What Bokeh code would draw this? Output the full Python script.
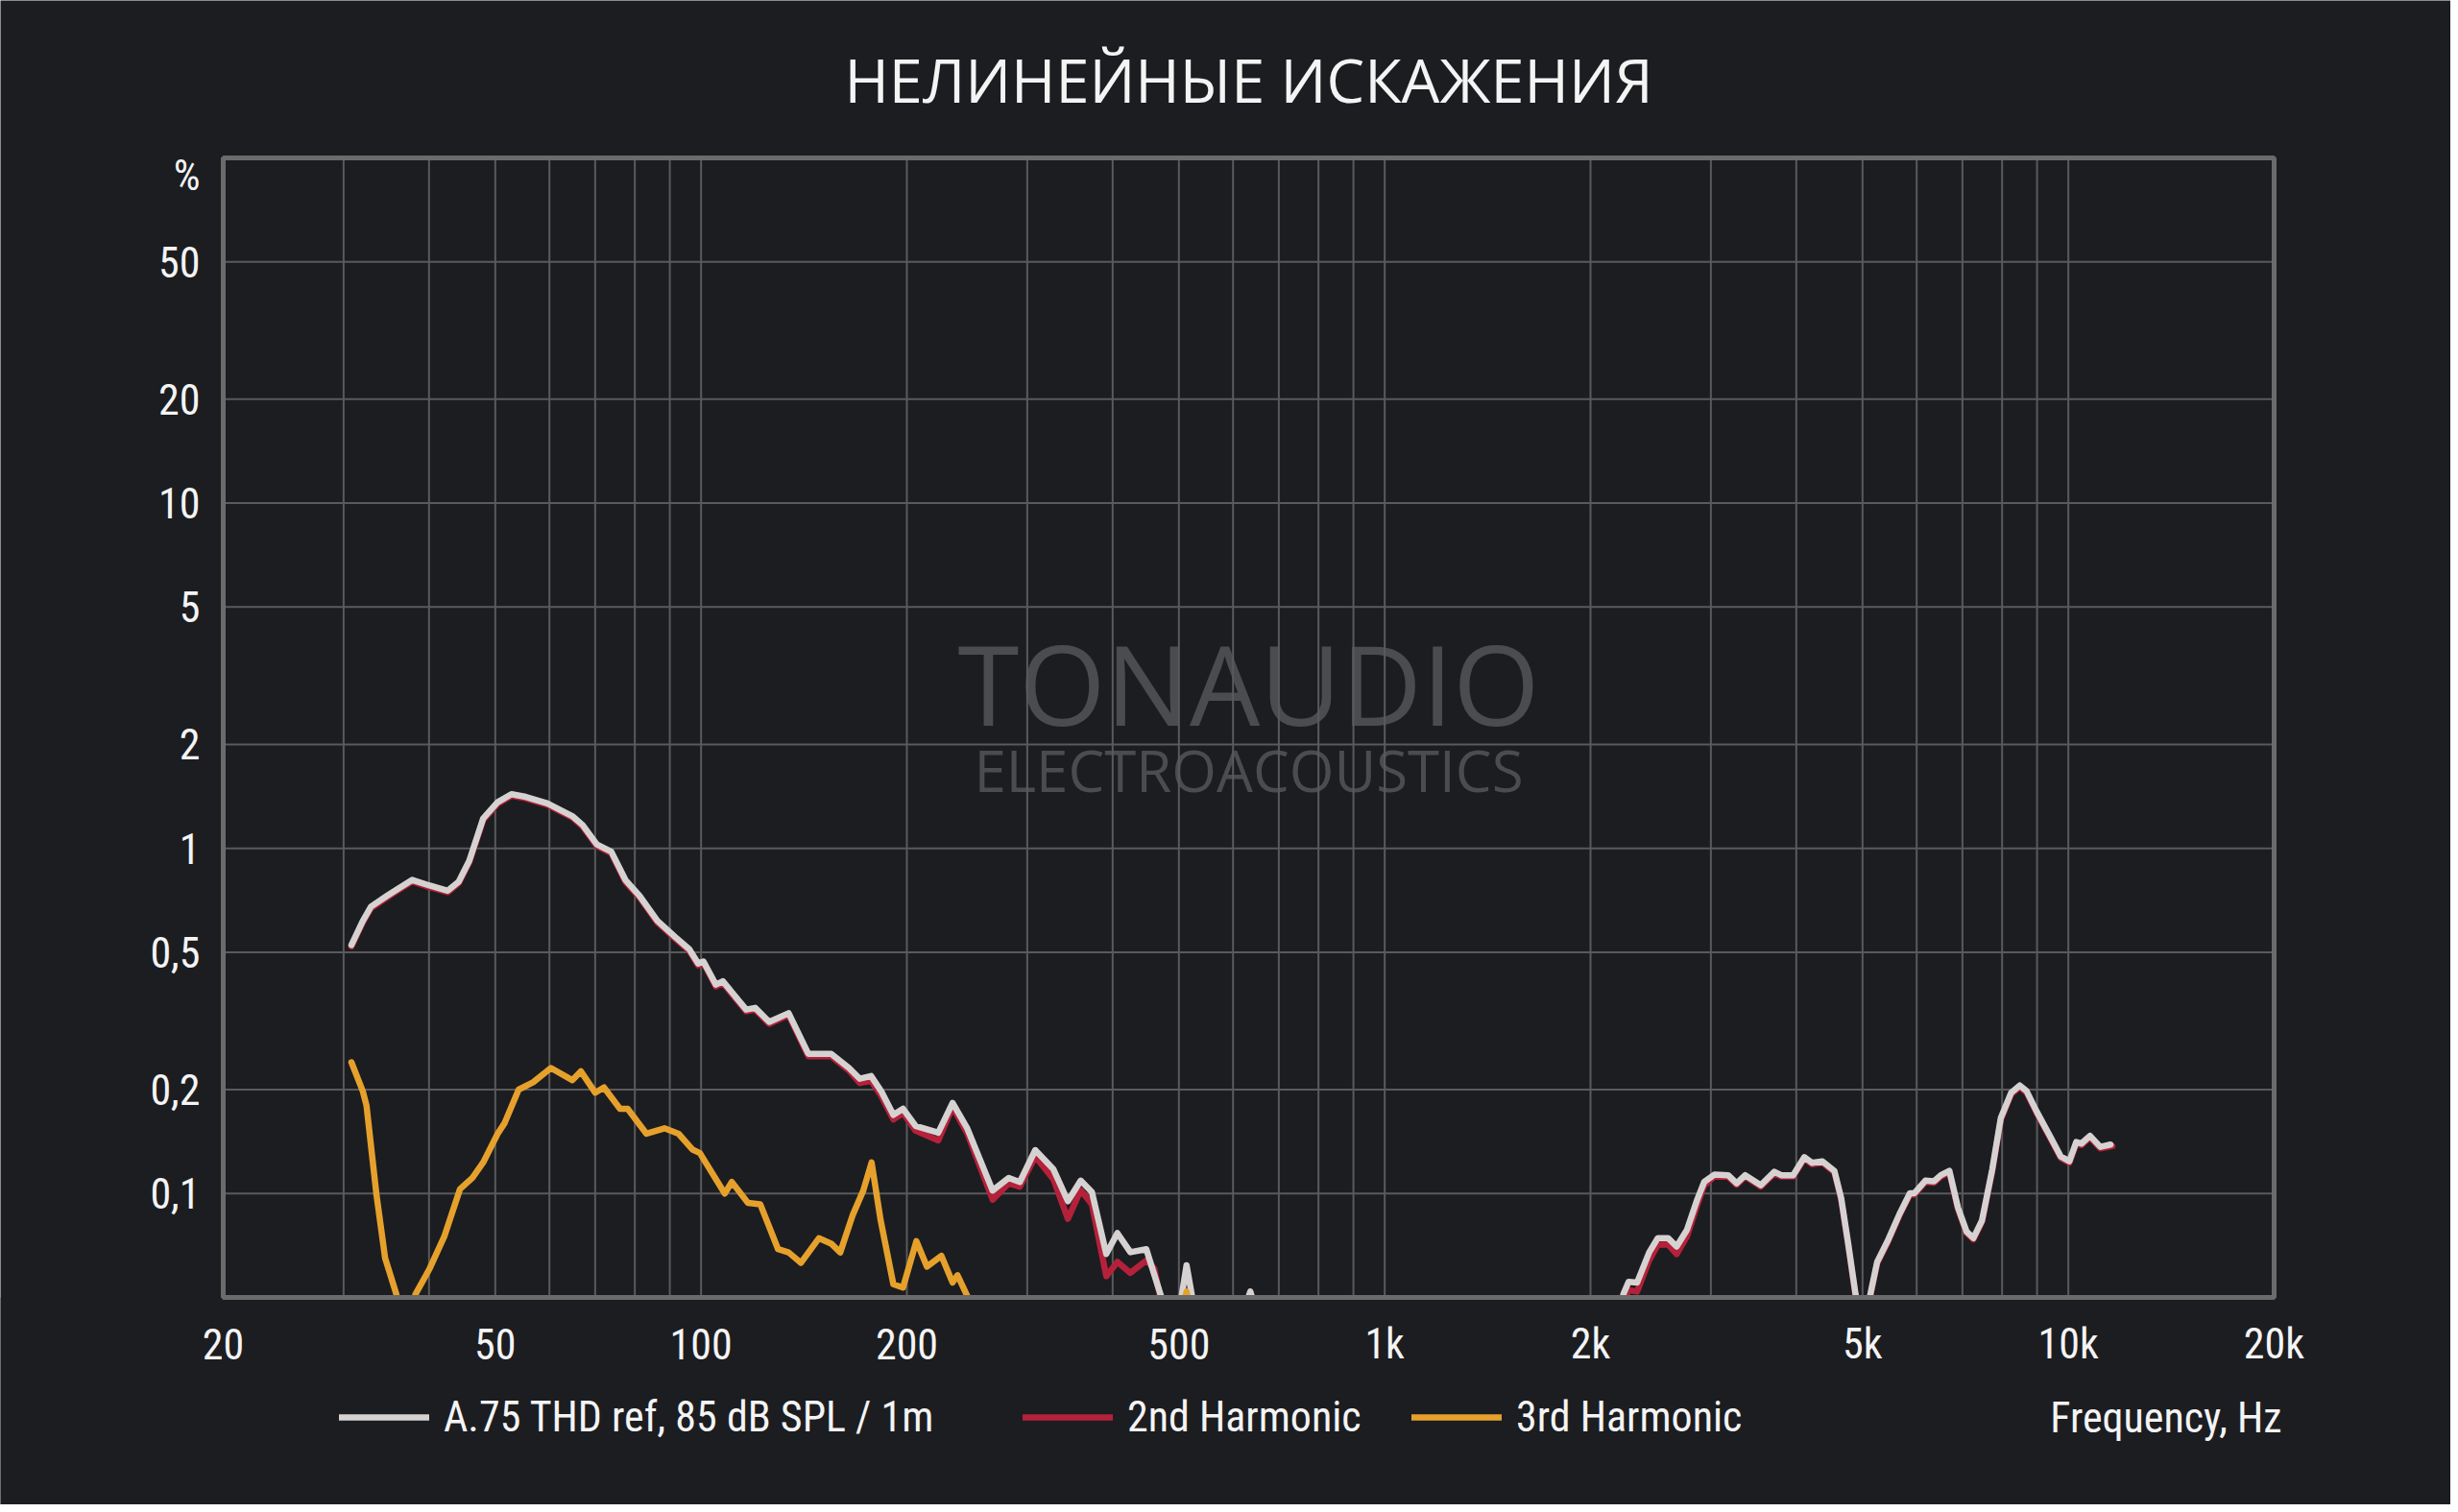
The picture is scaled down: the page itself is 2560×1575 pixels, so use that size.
import math
from bokeh.plotting import figure
from bokeh.models import Range1d, Label, Legend, LegendItem
from bokeh.core.properties import value
from bokeh.embed import file_html
from bokeh.resources import INLINE

NaN = float("nan")

# ---------------- data ----------------
thd_freq = [30.8, 32.0, 32.9, 34.7, 36.0, 37.8, 40.1, 42.6, 44.2, 45.8, 48.0, 50.4, 52.8, 55.4,
            59.6, 64.8, 67.1, 70.4, 73.9, 77.5, 81.3, 86.3, 91.6, 96.1, 99.0, 100.8, 105.1,
            107.6, 116.4, 120, 125.8, 134.3, 143.5, 155, 164.6, 170.7, 177.3, 183.4, 191.1,
            197.4, 206, 222.3, 233.3, 244.9, 267, 281.8, 292.6, 308.2, 327.7, 344, 359.2, 373,
            391.5, 406.4, 424.6, 448, 470, 480, NaN,
            500, 513, 528, NaN,
            620, 636, 650, NaN,
            2200, 2235, 2274, 2340, 2437, 2509, 2597, 2673, 2767, 2865, 2933, 3035, 3180, 3272,
            3368, 3548, 3715, 3802, 3958, 4110, 4220, 4368, 4548, 4653, 4762, 4884, 4950, NaN,
            5080, 5133, 5253, 5440, 5664, 5864, 5955, 6178, 6360, 6509, 6699, 6896, 7098, 7263,
            7477, 7740, 7966, 8249, 8491, 8689, 8993, 9419, 9750, 10035, 10270, 10450, 10757,
            11137, 11529]
thd_pct = [0.525, 0.616, 0.678, 0.728, 0.763, 0.81, 0.78, 0.754, 0.80, 0.92, 1.22, 1.36, 1.435, 1.41,
           1.35, 1.24, 1.168, 1.026, 0.978, 0.81, 0.728, 0.617, 0.554, 0.51, 0.464, 0.47, 0.403,
           0.412, 0.341, 0.345, 0.314, 0.333, 0.254, 0.254, 0.231, 0.215, 0.219, 0.198, 0.169,
           0.176, 0.157, 0.150, 0.183, 0.155, 0.102, 0.111, 0.108, 0.1336, 0.1175, 0.095, 0.109, 0.101,
           0.0668, 0.0768, 0.0676, 0.069, 0.051, 0.045, NaN,
           0.045, 0.062, 0.045, NaN,
           0.045, 0.052, 0.045, NaN,
           0.045, 0.0512, 0.0555, 0.0552, 0.0675, 0.0743, 0.0743, 0.0702, 0.0784, 0.096, 0.108, 0.1134, 0.113, 0.107,
           0.113, 0.1057, 0.1156, 0.113, 0.113, 0.1275, 0.1227, 0.124, 0.1163, 0.097, 0.072, 0.051, 0.045, NaN,
           0.045, 0.051, 0.0634, 0.0728, 0.0873, 0.1002, 0.1002, 0.109, 0.1085, 0.113, 0.1163, 0.091, 0.0776, 0.0743,
           0.0836, 0.1175, 0.1655, 0.196, 0.2056, 0.198, 0.1725, 0.1456, 0.128, 0.124, 0.141, 0.1395, 0.147,
           0.1365, 0.1386]

h2_freq = [30.8, 32.0, 32.9, 34.7, 36.0, 37.8, 40.1, 42.6, 44.2, 45.8, 48.0, 50.4, 52.8, 55.4,
           59.6, 64.8, 67.1, 70.4, 73.9, 77.5, 81.3, 86.3, 91.6, 96.1, 99.0, 100.8, 105.1,
           107.6, 116.4, 120, 125.8, 134.3, 143.5, 155, 164.6, 170.7, 177.3, 183.4, 191.1,
           197.4, 206, 222.3, 233.3, 244.9, 267, 281.8, 292.6, 308.2, 327.7, 344, 359.2, 373,
           391.5, 406.4, 424.6, 448, 460, 475, NaN,
           2200, 2235, 2274, 2340, 2437, 2509, 2597, 2673, 2767, 2865, 2933, 3035, 3180, 3272,
           3368, 3548, 3715, 3802, 3958, 4110, 4220, 4368, 4548, 4653, 4762, 4884, 4950, NaN,
           5080, 5133, 5253, 5440, 5664, 5864, 5955, 6178, 6360, 6509, 6699, 6896, 7098, 7263,
           7477, 7740, 7966, 8249, 8491, 8689, 8993, 9419, 9750, 10035, 10270, 10450, 10757,
           11137, 11600]
h2_pct = [0.52, 0.61, 0.671, 0.72, 0.755, 0.802, 0.772, 0.746, 0.792, 0.91, 1.208, 1.346, 1.42, 1.396,
          1.336, 1.228, 1.156, 1.015, 0.968, 0.80, 0.72, 0.61, 0.548, 0.504, 0.458, 0.465, 0.398,
          0.407, 0.337, 0.341, 0.31, 0.329, 0.25, 0.25, 0.227, 0.209, 0.212, 0.192, 0.164,
          0.171, 0.152, 0.1425, 0.178, 0.150, 0.096, 0.107, 0.1047, 0.128, 0.110, 0.0845, 0.1023, 0.093,
          0.0576, 0.0634, 0.0589, 0.064, 0.0607, 0.045, NaN,
          0.045, 0.048, 0.0525, 0.052, 0.064, 0.071, 0.0712, 0.0668, 0.075, 0.0925, 0.1055, 0.112, 0.1118, 0.106,
          0.112, 0.1047, 0.1145, 0.112, 0.112, 0.1262, 0.1215, 0.1228, 0.1152, 0.096, 0.0713, 0.0505, 0.045, NaN,
          0.045, 0.0505, 0.0628, 0.072, 0.0865, 0.0992, 0.0992, 0.108, 0.1075, 0.112, 0.1152, 0.090, 0.0768, 0.0736,
          0.0828, 0.1163, 0.1638, 0.194, 0.2035, 0.196, 0.1708, 0.1441, 0.1267, 0.1228, 0.1396, 0.1381, 0.1455,
          0.1351, 0.1372]

h3_freq = [30.8, 32.0, 32.4, 33.5, 34.5, 35.8, 36.3, NaN,
           37.7, 38.2, 40.1, 42.1, 44.4, 46.3, 48, 50.4, 51.6, 54.1, 56.8, 60.3, 64.8, 66.7, 70,
           72.1, 76.1, 78.1, 83.2, 88.4, 92.7, 97.2, 99.6, 108.3, 110.9, 117.1, 122.1, 129.6,
           134.3, 140, 148.7, 155, 159.8, 166.6, 172.7, 177.6, 183.1, 191.1, 197.4, 206.5, 214,
           224.7, 233.3, 237.2, 244.9, 248, NaN,
           505, 513, 521]
h3_pct = [0.240, 0.198, 0.180, 0.0997, 0.065, 0.0514, 0.045, NaN,
          0.045, 0.051, 0.0607, 0.075, 0.103, 0.111, 0.123, 0.149, 0.16, 0.2, 0.21, 0.231, 0.213, 0.226, 0.196,
          0.203, 0.176, 0.176, 0.149, 0.1545, 0.149, 0.134, 0.131, 0.1, 0.108, 0.094, 0.093, 0.069,
          0.0675, 0.063, 0.0742, 0.0716, 0.0675, 0.0865, 0.102, 0.123, 0.0836, 0.0546, 0.0534, 0.0728, 0.0614,
          0.066, 0.0552, 0.058, 0.0507, 0.045, NaN,
          0.045, 0.052, 0.045]

x_min, x_max = 20, 20000
y_min, y_max = 0.05, 100
x_ticks = [20, 50, 100, 200, 500, 1000, 2000, 5000, 10000, 20000]
x_tick_labels = ["20", "50", "100", "200", "500", "1k", "2k", "5k", "10k", "20k"]
x_minor = [30, 40, 60, 70, 80, 90, 300, 400, 600, 700, 800, 900,
           3000, 4000, 6000, 7000, 8000, 9000]
y_ticks = [0.1, 0.2, 0.5, 1, 2, 5, 10, 20, 50]
y_tick_labels = ["0,1", "0,2", "0,5", "1", "2", "5", "10", "20", "50"]
y_unit_label = "%"

series_names = ["A.75 THD ref, 85 dB SPL / 1m", "2nd Harmonic", "3rd Harmonic"]
title_text = "НЕЛИНЕЙНЫЕ ИСКАЖЕНИЯ"
x_title = "Frequency, Hz"

# ---------------- style / layout (pixels) ----------------
BG = "#1c1d21"
GRID = "#5a5a5c"
FRAME = "#6b6b6b"
WM = "#4b4c4f"
C_THD = "#d6d2d2"
C_H2 = "#b5213a"
C_H3 = "#e6a12c"
TXT = "#f4f4f4"
FONT = "Roboto Condensed, Roboto"
LW = 6.5

FL, FT, FW, FH = 232, 164, 2136, 1187      # plot box inside the canvas
RIGHT, BOTTOM = 184, 216
W, H = FL + FW + RIGHT, FT + FH + BOTTOM
PCT_POS = 88.6                              # y value where the "%" label sits
LEGEND_ROW = 1476                           # legend row centre, px from top

# the whole canvas is the frame; ranges chosen so the plot box lands at FL..FL+FW, FT..FT+FH
dec_x = FW / math.log10(x_max / x_min)
dec_y = FH / math.log10(y_max / y_min)
xr = Range1d(10 ** (math.log10(x_min) - FL / dec_x), 10 ** (math.log10(x_max) + RIGHT / dec_x))
yr = Range1d(10 ** (math.log10(y_min) - BOTTOM / dec_y), 10 ** (math.log10(y_max) + FT / dec_y))

p = figure(width=W, height=H, x_axis_type="log", y_axis_type="log",
           x_axis_location=None, y_axis_location=None,
           x_range=xr, y_range=yr, min_border=0, title=None,
           output_backend="svg", toolbar_location=None,
           background_fill_color=BG, border_fill_color=BG, outline_line_color=None)
p.grid.visible = False

# watermark (under everything)
p.add_layout(Label(x=FL + FW / 2, y=H - 710, x_units="screen", y_units="screen", text="TONAUDIO",
                   text_align="center", text_baseline="middle", text_color=WM,
                   text_font="Open Sans", text_font_size="116px", level="image"))
p.add_layout(Label(x=FL + FW / 2, y=H - 801, x_units="screen", y_units="screen",
                   text="ELECTROACOUSTICS", text_align="center", text_baseline="middle",
                   text_color=WM, text_font="Open Sans", text_font_size="60px", level="image"))

# grid
vx = [t for t in x_ticks + x_minor if x_min < t < x_max]
p.segment(x0=vx, x1=vx, y0=[y_min] * len(vx), y1=[y_max] * len(vx),
          line_color=GRID, line_width=2)
p.segment(x0=[x_min] * len(y_ticks), x1=[x_max] * len(y_ticks), y0=y_ticks, y1=y_ticks,
          line_color=GRID, line_width=2)

# curves
line_kw = dict(line_width=LW, line_cap="round", line_join="round")
r2 = p.line(h2_freq, h2_pct, line_color=C_H2, **line_kw)
r1 = p.line(thd_freq, thd_pct, line_color=C_THD, **line_kw)
r3 = p.line(h3_freq, h3_pct, line_color=C_H3, **line_kw)

# hide what falls below the plot box, then the box border
p.quad(left=xr.start, right=xr.end, bottom=yr.start, top=y_min, fill_color=BG, line_color=None)
p.quad(left=x_min, right=x_max, bottom=y_min, top=y_max, fill_color=None,
       line_color=FRAME, line_width=5)

# tick labels
p.text(x=x_ticks, y=[y_min] * len(x_ticks), text=x_tick_labels, y_offset=48,
       text_align="center", text_baseline="middle", text_color=TXT,
       text_font=value(FONT), text_font_size=value("44px"))
p.text(x=[x_min] * (len(y_ticks) + 1), y=y_ticks + [PCT_POS], text=y_tick_labels + [y_unit_label],
       x_offset=-24, text_align="right", text_baseline="middle", text_color=TXT,
       text_font=value(FONT), text_font_size=value("44px"))

# title
p.add_layout(Label(x=FL + FW / 2, y=H - 82, x_units="screen", y_units="screen", text=title_text,
                   text_align="center", text_baseline="middle", text_color=TXT,
                   text_font="Open Sans", text_font_size="63px"))

# legend row
for r, name, xpos in zip((r1, r2, r3), series_names, (353, 1065, 1470)):
    lg = Legend(items=[LegendItem(label=name, renderers=[r])], location=(xpos, H - LEGEND_ROW - 26),
                orientation="horizontal", background_fill_alpha=0, border_line_color=None,
                label_text_color=TXT, label_text_font=FONT, label_text_font_size="44px",
                glyph_width=94, glyph_height=52, label_standoff=15, padding=0, margin=0,
                spacing=0)
    p.add_layout(lg, "center")
p.add_layout(Label(x=2376, y=H - LEGEND_ROW, x_units="screen", y_units="screen", text=x_title,
                   text_align="right", text_baseline="middle", text_color=TXT,
                   text_font=FONT, text_font_size="44px"))

open("out.html", "w").write(file_html(p, INLINE))
